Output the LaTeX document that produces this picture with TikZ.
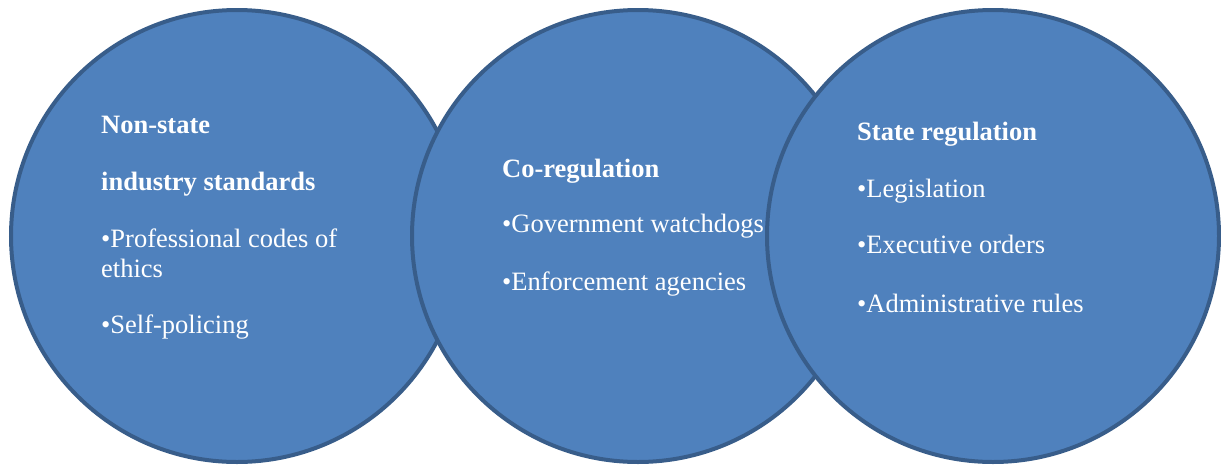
\documentclass[tikz,border=0pt]{standalone}
\usepackage{fontspec}
\setmainfont{Liberation Serif}
\usepackage{tikz}
\usetikzlibrary{positioning}

\definecolor{ringfill}{HTML}{4F81BD}
\definecolor{ringline}{HTML}{385D8A}

\tikzset{
    ring/.style={circle, draw=ringline, fill=ringfill, line width=4pt,
                 minimum size=452pt, inner sep=0pt},
    head/.style={anchor=base west, text=white, inner sep=0pt,
                 font=\fontsize{26.5}{30}\selectfont\bfseries},
    item/.style={anchor=base west, text=white, inner sep=0pt,
                 font=\fontsize{26.5}{30}\selectfont}
}

\begin{document}
\begin{tikzpicture}[x=1pt, y=-1pt]
    \useasboundingbox (0,0) rectangle (1221,464);

    % The three overlapping circles, left to right
    \node[ring] (nonstate) at (237,236) {};
    \node[ring] (coreg)    at (638,236) {};
    \node[ring] (state)    at (993,236) {};

    % Non-state
    \node[head] (ns1) at (101,133) {Non-state};
    \node[head] (ns2) at (101,190) {industry standards};
    \node[item] (ns3) at (101,247) {\textbullet Professional codes of};
    \node[item] (ns4) at (101,277) {ethics};
    \node[item] (ns5) at (101,333) {\textbullet Self-policing};

    % Co-regulation
    \node[head] (co1) at (502,177) {Co-regulation};
    \node[item] (co2) at (502,232) {\textbullet Government watchdogs};
    \node[item] (co3) at (502,290) {\textbullet Enforcement agencies};

    % State regulation
    \node[head] (st1) at (857,140) {State regulation};
    \node[item] (st2) at (857,197) {\textbullet Legislation};
    \node[item] (st3) at (857,253) {\textbullet Executive orders};
    \node[item] (st4) at (857,312) {\textbullet Administrative rules};
\end{tikzpicture}
\end{document}
